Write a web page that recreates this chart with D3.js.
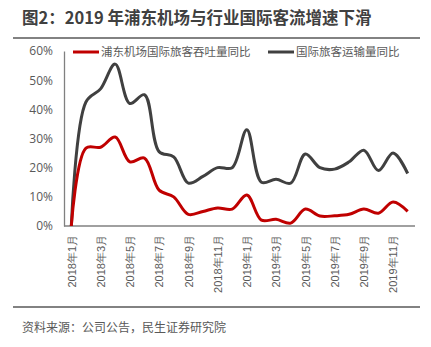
<!DOCTYPE html>
<html><head><meta charset="utf-8">
<script src="https://cdn.jsdelivr.net/npm/d3@7/dist/d3.min.js"></script>
<style>body{margin:0;background:#fff;}svg{display:block;font-family:"Noto Sans CJK SC","Noto Sans",sans-serif;}</style>
</head><body><svg id="c" width="431" height="347"></svg>
<script>
const months = ["2018年1月","2018年2月","2018年3月","2018年4月","2018年5月","2018年6月","2018年7月","2018年8月","2018年9月","2018年10月","2018年11月","2018年12月",
"2019年1月","2019年2月","2019年3月","2019年4月","2019年5月","2019年6月","2019年7月","2019年8月","2019年9月","2019年10月","2019年11月","2019年12月"];
const pudong = [0,26.7,27,30.5,22,23.3,12.3,10,4,5,6.2,5.8,10.6,2,2.3,1,5.8,3.4,3.5,4,5.8,4.4,8.2,5];
const industry = [0,42.5,47,55.5,42,45,25.5,23.7,14.7,17,20,20,33,15,16,14.7,24.7,20,19.5,22,26,19,25,18];
const yTicks = [0,10,20,30,40,50,60];
const seriesNames = ["浦东机场国际旅客吞吐量同比","国际旅客运输量同比"];
const title = "图2：2019 年浦东机场与行业国际客流增速下滑";
const source = "资料来源：公司公告，民生证券研究院";

const svg = d3.select("#c");
const x = d3.scalePoint().domain(months).range([64,415]).padding(0.5);
const y = d3.scaleLinear().domain([0,60]).range([226,51]);

svg.append("text").attr("x",22).attr("y",24).attr("font-size",16.5).attr("font-weight","bold").attr("fill","#404040").text(title);
svg.append("line").attr("x1",13).attr("x2",420).attr("y1",38).attr("y2",38).attr("stroke","#595959").attr("stroke-width",1.5);
svg.append("line").attr("x1",13).attr("x2",420).attr("y1",307).attr("y2",307).attr("stroke","#595959").attr("stroke-width",1.5);
svg.append("text").attr("x",22).attr("y",332).attr("font-size",12).attr("fill","#595959").text(source);

// y axis
const ya = svg.append("g").attr("transform","translate(64,0)").call(d3.axisLeft(y).tickValues(yTicks).tickFormat(d=>d+"%").tickSize(0).tickPadding(11));
ya.select(".domain").attr("stroke","#808080").attr("stroke-width",1.3);
ya.selectAll("text").attr("font-size",12).attr("fill","#595959").attr("font-family","'Open Sans','Noto Sans',sans-serif");

// x axis
const xa = svg.append("g").attr("transform","translate(0,226)").call(d3.axisBottom(x).tickValues(months.filter((d,i)=>i%2===0)).tickSize(0).tickSizeOuter(0));
xa.select(".domain").attr("stroke","#808080").attr("stroke-width",1.3).attr("d","M64,0H415");
xa.selectAll("text").attr("font-size",11).attr("fill","#595959")
  .attr("transform","rotate(-90)").attr("text-anchor","end").attr("x",-9).attr("y",0).attr("dy","0.35em");

const line = d3.line().x((d,i)=>x(months[i])).y(d=>y(d)).curve(d3.curveCatmullRom.alpha(0.5));
svg.append("path").datum(industry).attr("d",line).attr("fill","none").attr("stroke","#404040").attr("stroke-width",3);
svg.append("path").datum(pudong).attr("d",line).attr("fill","none").attr("stroke","#C00000").attr("stroke-width",3);

// legend
const leg = [{x:73,c:"#C00000",t:seriesNames[0]},{x:268,c:"#404040",t:seriesNames[1]}];
leg.forEach(l=>{
  svg.append("line").attr("x1",l.x).attr("x2",l.x+26).attr("y1",52).attr("y2",52).attr("stroke",l.c).attr("stroke-width",3);
  svg.append("text").attr("x",l.x+28).attr("y",56).attr("font-size",11.5).attr("fill","#595959").text(l.t);
});
</script></body></html>
